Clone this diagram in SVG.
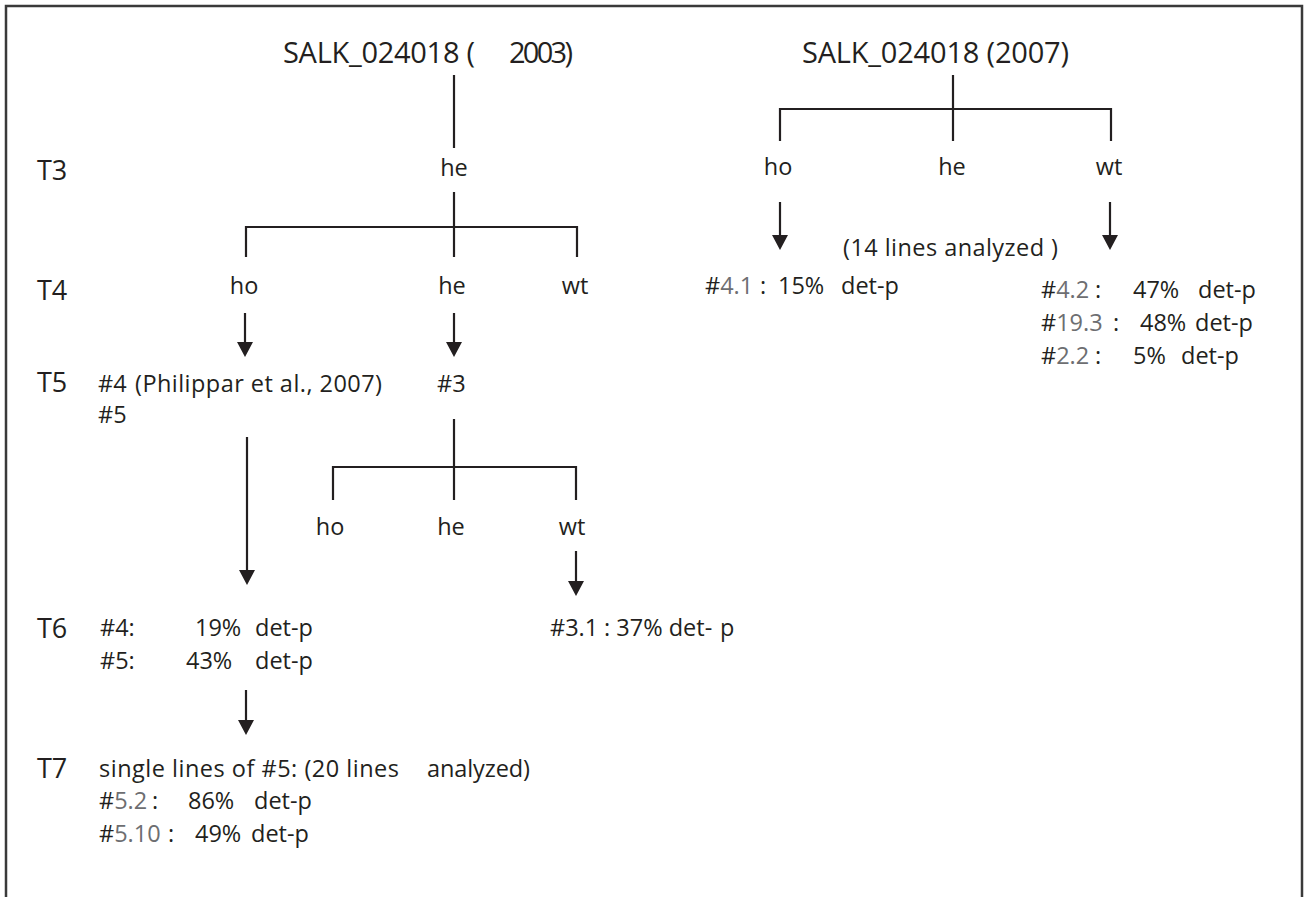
<svg xmlns="http://www.w3.org/2000/svg" width="1305" height="897" viewBox="0 0 1305 897">
<defs>
<style>
text { font-family: "Open Sans", "Noto Sans", sans-serif; fill: #231f20; }
.t { font-size: 23.5px; }
.lbl { font-size: 27px; }
.title { font-size: 29px; }
.g { fill: #6d6e71; }
.ln { stroke: #231f20; stroke-width: 2.2; fill: none; }
.frame { stroke: #3a3a3a; stroke-width: 2.5; fill: none; }
</style>
<marker id="arr" markerUnits="userSpaceOnUse" markerWidth="16" markerHeight="16" refX="5" refY="8" orient="auto" viewBox="0 0 15 16">
<path d="M0,0 L15,8 L0,16 Z" fill="#231f20"/>
</marker>
</defs>
<rect width="1305" height="897" fill="#ffffff"/>
<g id="frame"><path class="frame" d="M6,897 V6 H1302 V897"/></g>

<g id="connectors" class="ln">
<path d="M454,75 V148"/>
<path d="M454,192 V257"/>
<path d="M246,257 V227 H577 V257"/>
<path d="M245,313 V347" marker-end="url(#arr)"/>
<path d="M454,313 V347" marker-end="url(#arr)"/>
<path d="M247,437 V575" marker-end="url(#arr)"/>
<path d="M454,419 V500"/>
<path d="M333,500 V467 H576 V500"/>
<path d="M576,551 V586" marker-end="url(#arr)"/>
<path d="M246,690 V725" marker-end="url(#arr)"/>
<path d="M953,75 V141"/>
<path d="M780,141 V109 H1111 V141"/>
<path d="M780,202 V240" marker-end="url(#arr)"/>
<path d="M1110,202 V240" marker-end="url(#arr)"/>
</g>

<g id="gen-labels" class="lbl">
<text x="37" y="180">T3</text>
<text x="37" y="300">T4</text>
<text x="37" y="392">T5</text>
<text x="37" y="638">T6</text>
<text x="37" y="778">T7</text>
</g>

<g id="title-2003"><text class="title" y="63"><tspan x="283" textLength="192">SALK_024018 (</tspan><tspan x="509" textLength="64">2003)</tspan></text></g>
<g id="title-2007"><text class="title" x="802" y="63" textLength="267">SALK_024018 (2007)</text></g>

<g id="t3-he" class="t"><text x="454" y="176" text-anchor="middle">he</text></g>
<g id="t4-ho" class="t"><text x="244" y="294" text-anchor="middle">ho</text></g>
<g id="t4-he" class="t"><text x="452" y="294" text-anchor="middle">he</text></g>
<g id="t4-wt" class="t"><text x="575" y="294" text-anchor="middle">wt</text></g>

<g id="t5-4" class="t"><text x="98" y="392"><tspan>#4</tspan><tspan x="135" textLength="247">(Philippar et al., 2007)</tspan></text><text x="98" y="423">#5</text></g>
<g id="t5-3" class="t"><text x="437" y="392">#3</text></g>
<g id="t5-ho" class="t"><text x="330" y="535" text-anchor="middle">ho</text></g>
<g id="t5-he" class="t"><text x="451" y="535" text-anchor="middle">he</text></g>
<g id="t5-wt" class="t"><text x="572" y="535" text-anchor="middle">wt</text></g>

<g id="t6-left" class="t">
<text y="636"><tspan x="100">#4:</tspan><tspan x="195">19%</tspan><tspan x="255">det-p</tspan></text>
<text y="669"><tspan x="100">#5:</tspan><tspan x="186">43%</tspan><tspan x="255">det-p</tspan></text>
</g>
<g id="t6-31" class="t"><text y="636"><tspan x="550">#3.1</tspan><tspan x="604">: 37% det-</tspan><tspan x="720">p</tspan></text></g>

<g id="t7" class="t">
<text y="777"><tspan x="99" textLength="300">single lines of #5: (20 lines</tspan><tspan x="427" textLength="103">analyzed)</tspan></text>
<text y="809"><tspan x="99">#</tspan><tspan class="g">5.2</tspan><tspan x="152">:</tspan><tspan x="188">86%</tspan><tspan x="254">det-p</tspan></text>
<text y="842"><tspan x="99">#</tspan><tspan class="g">5.10</tspan><tspan x="168">:</tspan><tspan x="195">49%</tspan><tspan x="251">det-p</tspan></text>
</g>

<g id="r-ho" class="t"><text x="778" y="175" text-anchor="middle">ho</text></g>
<g id="r-he" class="t"><text x="952" y="175" text-anchor="middle">he</text></g>
<g id="r-wt" class="t"><text x="1109" y="175" text-anchor="middle">wt</text></g>

<g id="r-14lines" class="t"><text x="843" y="256" textLength="215">(14 lines analyzed )</text></g>
<g id="r-41" class="t"><text y="294"><tspan x="705">#</tspan><tspan class="g">4.1</tspan><tspan x="760">:</tspan><tspan x="778">15%</tspan><tspan x="841">det-p</tspan></text></g>
<g id="r-wtres" class="t">
<text y="298"><tspan x="1041">#</tspan><tspan class="g">4.2</tspan><tspan x="1095">:</tspan><tspan x="1133">47%</tspan><tspan x="1198">det-p</tspan></text>
<text y="331"><tspan x="1041">#</tspan><tspan class="g">19.3</tspan><tspan x="1113">:</tspan><tspan x="1140">48%</tspan><tspan x="1195">det-p</tspan></text>
<text y="364"><tspan x="1041">#</tspan><tspan class="g">2.2</tspan><tspan x="1095">:</tspan><tspan x="1133">5%</tspan><tspan x="1181">det-p</tspan></text>
</g>
</svg>
